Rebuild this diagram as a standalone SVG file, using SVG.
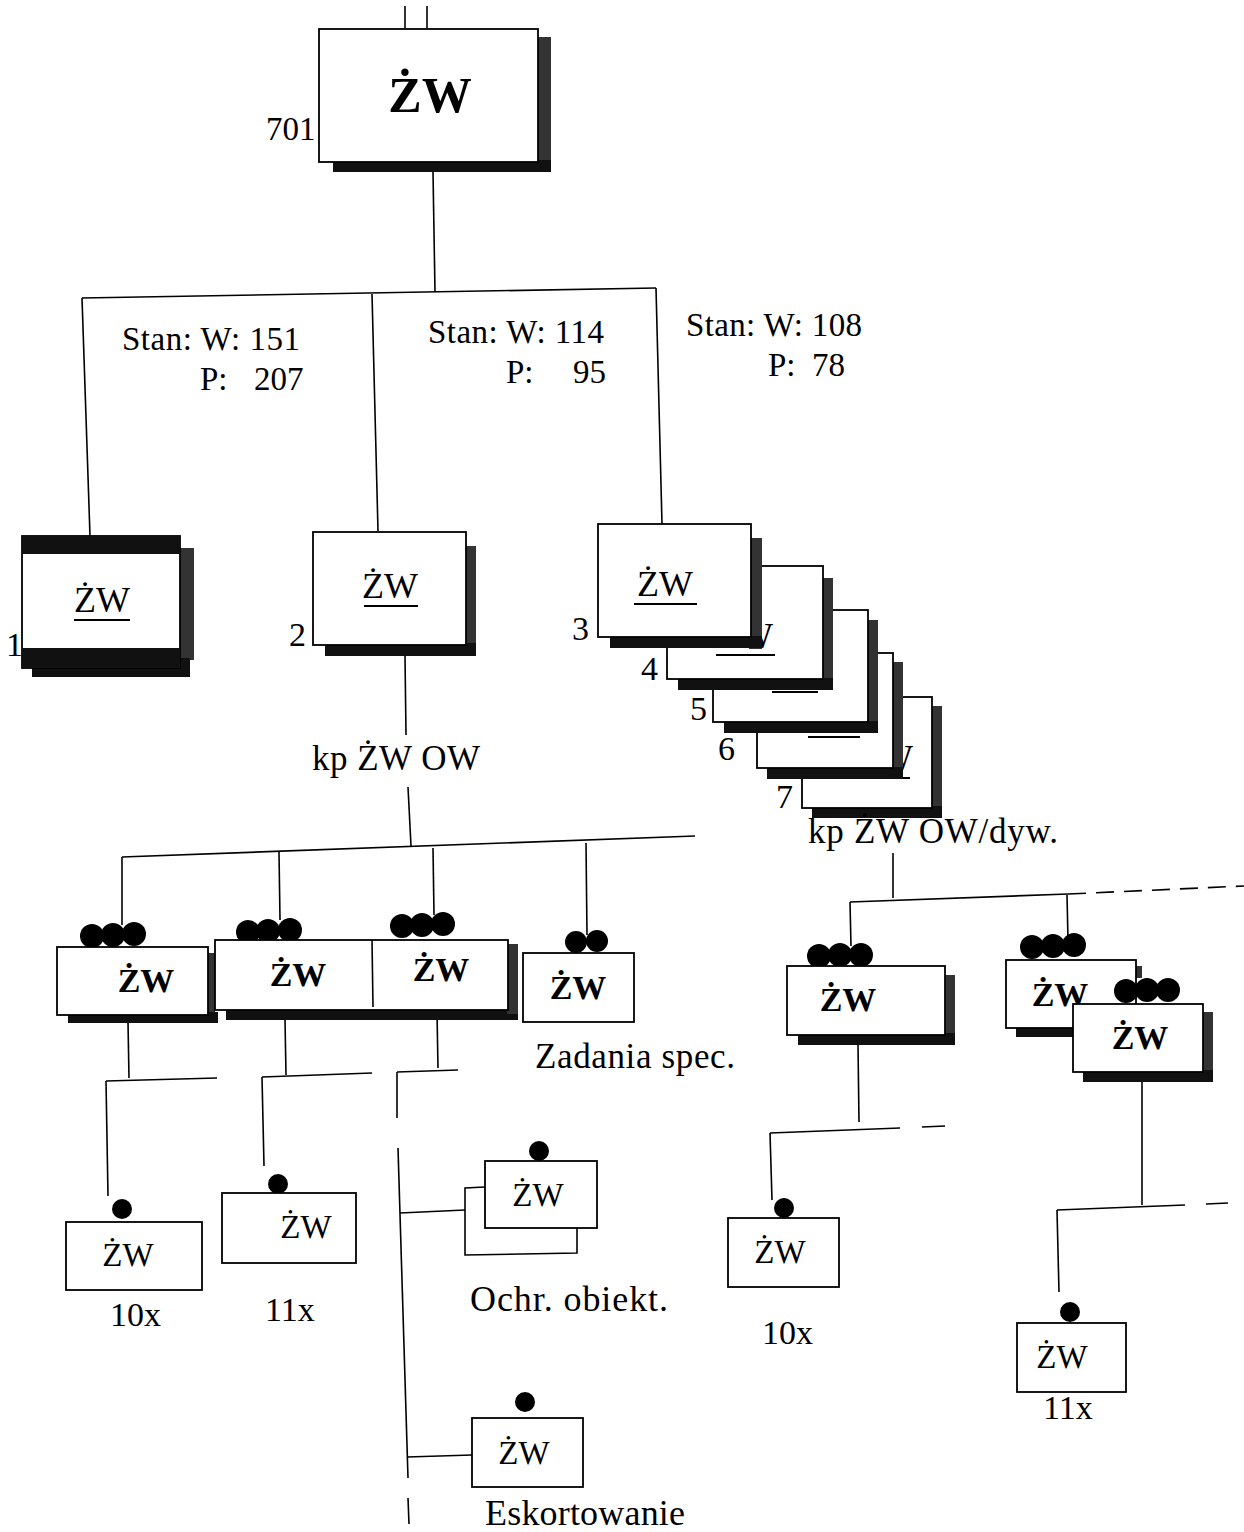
<svg xmlns="http://www.w3.org/2000/svg" width="1244" height="1532" viewBox="0 0 1244 1532">
<style>
.ln{stroke:#000;stroke-width:1.6;fill:none}
.bx{fill:#fff;stroke:#000;stroke-width:1.8}
.sh{fill:#111}
.shr{fill:#333}
.t{font-family:"Liberation Serif","Times New Roman",serif;fill:#000}
.b{font-weight:bold}
.dot{fill:#000}
.ul{stroke:#000;stroke-width:2.2}
</style>
<rect width="1244" height="1532" fill="#fff"/>
<g id="connectors">
<line class="ln" x1="405" y1="6" x2="405" y2="28"/>
<line class="ln" x1="427" y1="6" x2="427" y2="28"/>
<line class="ln" x1="433" y1="172" x2="435" y2="292"/>
<line class="ln" x1="82" y1="298" x2="656" y2="288"/>
<line class="ln" x1="82" y1="298" x2="90" y2="536"/>
<line class="ln" x1="372" y1="294" x2="378" y2="531"/>
<line class="ln" x1="656" y1="288" x2="662" y2="524"/>
<line class="ln" x1="405" y1="656" x2="406" y2="735"/>
<line class="ln" x1="408" y1="787" x2="411" y2="846"/>
<line class="ln" x1="122" y1="857" x2="695" y2="836"/>
<line class="ln" x1="122" y1="857" x2="122" y2="925"/>
<line class="ln" x1="279" y1="852" x2="280" y2="920"/>
<line class="ln" x1="433" y1="848" x2="434" y2="915"/>
<line class="ln" x1="586" y1="843" x2="587" y2="935"/>
<line class="ln" x1="128" y1="1022" x2="129" y2="1078"/>
<line class="ln" x1="106" y1="1081" x2="217" y2="1078"/>
<line class="ln" x1="106" y1="1081" x2="108" y2="1196"/>
<line class="ln" x1="285" y1="1020" x2="286" y2="1075"/>
<line class="ln" x1="262" y1="1077" x2="372" y2="1073"/>
<line class="ln" x1="262" y1="1077" x2="264" y2="1166"/>
<line class="ln" x1="437" y1="1012" x2="438" y2="1068"/>
<line class="ln" x1="397" y1="1072" x2="458" y2="1070"/>
<line class="ln" x1="397" y1="1072" x2="397" y2="1118"/>
<line class="ln" x1="398" y1="1148" x2="408" y2="1478"/>
<line class="ln" x1="408" y1="1498" x2="409" y2="1524"/>
<line class="ln" x1="400" y1="1213" x2="465" y2="1210"/>
<line class="ln" x1="407" y1="1457" x2="472" y2="1455"/>
<line class="ln" x1="893" y1="853" x2="893" y2="898"/>
<line class="ln" x1="850" y1="902" x2="1068" y2="894"/>
<line class="ln" x1="1068" y1="894" x2="1244" y2="886" stroke-dasharray="18,10"/>
<line class="ln" x1="850" y1="902" x2="851" y2="946"/>
<line class="ln" x1="1067" y1="895" x2="1068" y2="940"/>
<line class="ln" x1="858" y1="1045" x2="859" y2="1122"/>
<line class="ln" x1="770" y1="1133" x2="900" y2="1128"/>
<line class="ln" x1="922" y1="1127" x2="945" y2="1126"/>
<line class="ln" x1="770" y1="1133" x2="772" y2="1200"/>
<line class="ln" x1="1142" y1="1082" x2="1142" y2="1205"/>
<line class="ln" x1="1057" y1="1210" x2="1185" y2="1205"/>
<line class="ln" x1="1206" y1="1204" x2="1228" y2="1203"/>
<line class="ln" x1="1057" y1="1210" x2="1059" y2="1292"/>
</g>
<g id="node-701">
<rect class="shr" x="536" y="37" width="15" height="133"/>
<rect class="sh" x="333" y="160" width="218" height="12"/>
<rect class="bx" x="319" y="29" width="219" height="133"/>
<text class="t b" x="430" y="112" font-size="50" text-anchor="middle">ŻW</text>
<text class="t" x="266" y="140" font-size="33">701</text>
</g>
<g id="node-1">
<rect class="shr" x="180" y="548" width="14" height="112"/>
<rect class="sh" x="32" y="658" width="158" height="19"/>
<rect class="bx" x="22" y="536" width="158" height="132"/>
<rect class="sh" x="22" y="536" width="158" height="18"/>
<rect class="sh" x="22" y="648" width="158" height="20"/>
<text class="t" x="102" y="612" font-size="36" text-anchor="middle">ŻW</text>
<line class="ul" x1="74" y1="620" x2="130" y2="620"/>
<text class="t" x="6" y="656" font-size="34">1</text>
</g>
<g id="node-2">
<rect class="shr" x="464" y="546" width="12" height="110"/>
<rect class="sh" x="325" y="643" width="151" height="13"/>
<rect class="bx" x="313" y="532" width="153" height="113"/>
<text class="t" x="390" y="598" font-size="36" text-anchor="middle">ŻW</text>
<line class="ul" x1="364" y1="606" x2="418" y2="606"/>
<text class="t" x="289" y="646" font-size="34">2</text>
</g>
<g id="node-7">
<rect class="shr" x="930" y="706" width="12" height="112"/>
<rect class="sh" x="812" y="806" width="130" height="12"/>
<rect class="bx" x="802" y="697" width="130" height="111"/>
<text class="t" x="885" y="770" font-size="36" text-anchor="middle">ŻW</text>
<line class="ul" x1="860" y1="778" x2="910" y2="778"/>
<text class="t" x="776" y="808" font-size="34">7</text>
</g>
<g id="node-6">
<rect class="shr" x="891" y="662" width="12" height="117"/>
<rect class="sh" x="767" y="767" width="136" height="12"/>
<rect class="bx" x="757" y="653" width="136" height="115"/>
<text class="t" x="834" y="729" font-size="36" text-anchor="middle">ŻW</text>
<line class="ul" x1="808" y1="737" x2="860" y2="737"/>
<text class="t" x="718" y="760" font-size="34">6</text>
</g>
<g id="node-5">
<rect class="shr" x="866" y="620" width="12" height="113"/>
<rect class="sh" x="724" y="721" width="154" height="12"/>
<rect class="bx" x="713" y="610" width="155" height="112"/>
<text class="t" x="795" y="684" font-size="36" text-anchor="middle">ŻW</text>
<line class="ul" x1="772" y1="692" x2="818" y2="692"/>
<text class="t" x="690" y="720" font-size="34">5</text>
</g>
<g id="node-4">
<rect class="shr" x="821" y="578" width="12" height="112"/>
<rect class="sh" x="678" y="678" width="155" height="12"/>
<rect class="bx" x="667" y="566" width="156" height="113"/>
<text class="t" x="745" y="648" font-size="36" text-anchor="middle">ŻW</text>
<line class="ul" x1="716" y1="655" x2="775" y2="655"/>
<text class="t" x="641" y="680" font-size="34">4</text>
</g>
<g id="node-3">
<rect class="shr" x="749" y="538" width="13" height="111"/>
<rect class="sh" x="610" y="636" width="152" height="12"/>
<rect class="bx" x="598" y="524" width="153" height="113"/>
<text class="t" x="665" y="596" font-size="36" text-anchor="middle">ŻW</text>
<line class="ul" x1="634" y1="604" x2="697" y2="604"/>
<text class="t" x="572" y="640" font-size="34">3</text>
</g>
<g id="label-kp1">
<text class="t" x="312" y="770" font-size="35" textLength="168">kp ŻW OW</text>
</g>
<g id="label-kp2">
<text class="t" x="808" y="843" font-size="35" textLength="250">kp ŻW OW/dyw.</text>
</g>
<g id="stan-labels">
<text class="t" x="122" y="350" font-size="33" textLength="178">Stan: W: 151</text>
<text class="t" x="200" y="390" font-size="33">P:</text>
<text class="t" x="254" y="390" font-size="33">207</text>
<text class="t" x="428" y="343" font-size="33" textLength="176">Stan: W: 114</text>
<text class="t" x="506" y="383" font-size="33">P:</text>
<text class="t" x="573" y="383" font-size="33">95</text>
<text class="t" x="686" y="336" font-size="33" textLength="176">Stan: W: 108</text>
<text class="t" x="768" y="376" font-size="33">P:</text>
<text class="t" x="812" y="376" font-size="33">78</text>
</g>
<g id="node-A">
<circle class="dot" cx="92" cy="936" r="12"/><circle class="dot" cx="113" cy="935" r="12"/><circle class="dot" cx="134" cy="934" r="12"/>
<rect class="shr" x="207" y="953" width="8" height="64"/>
<rect class="sh" x="68" y="1012" width="150" height="11"/>
<rect class="bx" x="57" y="947" width="151" height="68"/>
<text class="t b" x="146" y="992" font-size="34" text-anchor="middle">ŻW</text>
</g>
<g id="node-BC">
<circle class="dot" cx="248" cy="932" r="12"/><circle class="dot" cx="268" cy="931" r="12"/><circle class="dot" cx="290" cy="930" r="12"/>
<circle class="dot" cx="402" cy="926" r="12"/><circle class="dot" cx="422" cy="925" r="12"/><circle class="dot" cx="443" cy="924" r="12"/>
<rect class="sh" x="226" y="1006" width="292" height="14"/>
<rect class="shr" x="507" y="944" width="11" height="70"/>
<rect class="bx" x="215" y="940" width="293" height="70"/>
<line class="ln" x1="372" y1="940" x2="373" y2="1007"/>
<text class="t b" x="298" y="986" font-size="34" text-anchor="middle">ŻW</text>
<text class="t b" x="441" y="981" font-size="34" text-anchor="middle">ŻW</text>
</g>
<g id="node-D">
<circle class="dot" cx="576" cy="942" r="11"/><circle class="dot" cx="597" cy="941" r="11"/>
<rect class="bx" x="523" y="953" width="111" height="69"/>
<text class="t b" x="578" y="999" font-size="34" text-anchor="middle">ŻW</text>
<text class="t" x="535" y="1068" font-size="35" textLength="200">Zadania spec.</text>
</g>
<g id="node-E">
<circle class="dot" cx="122" cy="1209" r="10"/>
<rect class="bx" x="66" y="1222" width="136" height="68"/>
<text class="t" x="128" y="1266" font-size="33" text-anchor="middle">ŻW</text>
<text class="t" x="110" y="1326" font-size="34">10x</text>
</g>
<g id="node-F">
<circle class="dot" cx="278" cy="1184" r="10"/>
<rect class="bx" x="222" y="1193" width="134" height="70"/>
<text class="t" x="306" y="1238" font-size="33" text-anchor="middle">ŻW</text>
<text class="t" x="265" y="1321" font-size="34">11x</text>
</g>
<g id="node-ochr">
<polyline class="ln" points="485,1187 465,1188 465,1255 577,1253 577,1228"/>
<circle class="dot" cx="539" cy="1151" r="10"/>
<rect class="bx" x="485" y="1161" width="112" height="67"/>
<text class="t" x="538" y="1206" font-size="33" text-anchor="middle">ŻW</text>
<text class="t" x="470" y="1311" font-size="36" textLength="198">Ochr. obiekt.</text>
</g>
<g id="node-eskort">
<circle class="dot" cx="525" cy="1402" r="10"/>
<rect class="bx" x="472" y="1418" width="111" height="69"/>
<text class="t" x="524" y="1464" font-size="33" text-anchor="middle">ŻW</text>
<text class="t" x="485" y="1525" font-size="36" textLength="200">Eskortowanie</text>
</g>
<g id="node-G">
<circle class="dot" cx="819" cy="956" r="12"/><circle class="dot" cx="840" cy="955" r="12"/><circle class="dot" cx="861" cy="955" r="12"/>
<rect class="shr" x="944" y="975" width="11" height="70"/>
<rect class="sh" x="798" y="1033" width="157" height="12"/>
<rect class="bx" x="787" y="966" width="158" height="69"/>
<text class="t b" x="848" y="1011" font-size="34" text-anchor="middle">ŻW</text>
</g>
<g id="node-H">
<circle class="dot" cx="784" cy="1208" r="10"/>
<rect class="bx" x="728" y="1218" width="111" height="69"/>
<text class="t" x="780" y="1263" font-size="33" text-anchor="middle">ŻW</text>
<text class="t" x="762" y="1344" font-size="34">10x</text>
</g>
<g id="node-I">
<circle class="dot" cx="1032" cy="947" r="12"/><circle class="dot" cx="1053" cy="946" r="12"/><circle class="dot" cx="1074" cy="945" r="12"/>
<rect class="sh" x="1016" y="1025" width="60" height="12"/>
<rect class="shr" x="1134" y="966" width="8" height="12"/>
<rect class="bx" x="1006" y="960" width="130" height="68"/>
<text class="t b" x="1060" y="1006" font-size="34" text-anchor="middle">ŻW</text>
</g>
<g id="node-J">
<circle class="dot" cx="1126" cy="991" r="12"/><circle class="dot" cx="1147" cy="990" r="12"/><circle class="dot" cx="1168" cy="990" r="12"/>
<rect class="shr" x="1202" y="1012" width="11" height="70"/>
<rect class="sh" x="1083" y="1070" width="130" height="12"/>
<rect class="bx" x="1073" y="1004" width="130" height="68"/>
<text class="t b" x="1140" y="1049" font-size="34" text-anchor="middle">ŻW</text>
</g>
<g id="node-K">
<circle class="dot" cx="1070" cy="1312" r="10"/>
<rect class="bx" x="1017" y="1323" width="109" height="69"/>
<text class="t" x="1062" y="1368" font-size="33" text-anchor="middle">ŻW</text>
<text class="t" x="1043" y="1419" font-size="34">11x</text>
</g>
</svg>
